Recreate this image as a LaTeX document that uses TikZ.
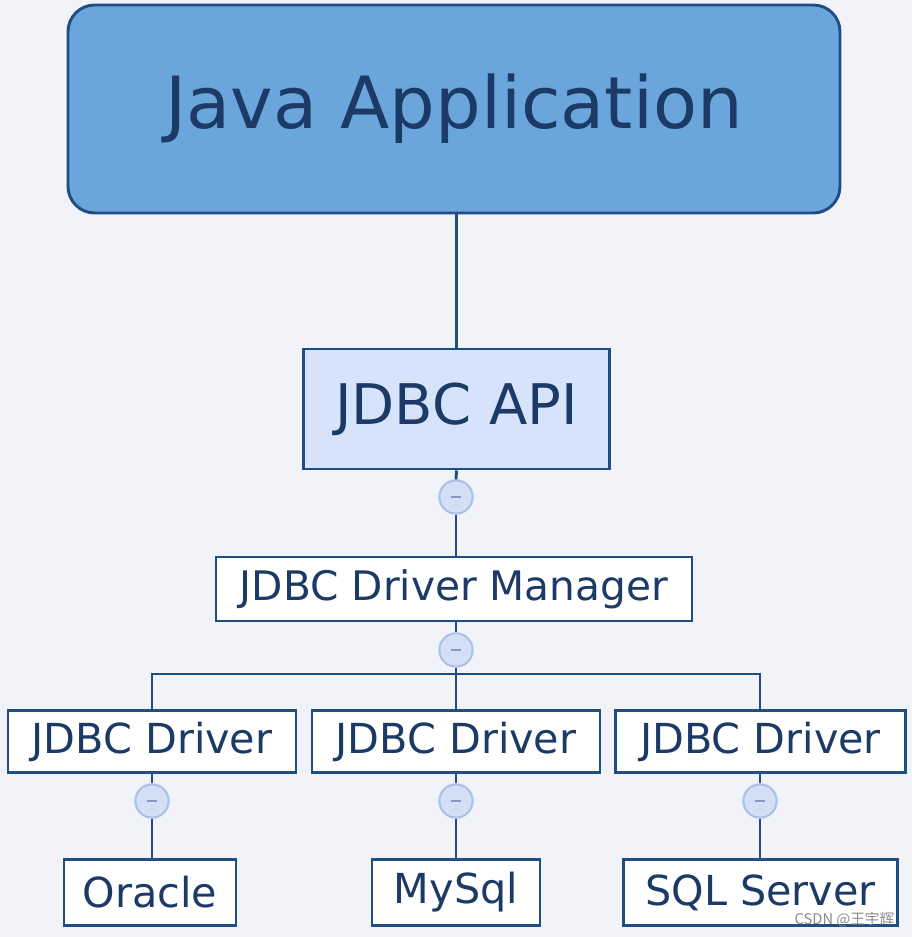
\documentclass[tikz,border=0pt]{standalone}
\usepackage{fontspec}
\setmainfont{DejaVu Sans}
\newfontfamily\cjk{Noto Sans CJK SC}
\definecolor{bg}{HTML}{F2F3F9}
\definecolor{bd}{HTML}{1F4E83}
\definecolor{tx}{HTML}{1C3A66}
\definecolor{top}{HTML}{6AA6DC}
\definecolor{api}{HTML}{D6E3FB}
\definecolor{cf}{HTML}{D3DFF5}
\definecolor{cb}{HTML}{A9BFE8}
\begin{document}
\begin{tikzpicture}[x=0.75pt,y=-0.75pt,
 box/.style={draw=bd,line width=2.2pt,fill=white,text=tx,inner sep=0pt},
 ln/.style={draw=bd,line width=2.2pt},
 col/.style={circle,draw=cb,fill=cf,line width=1.5pt,minimum size=25pt,inner sep=0pt,
  path picture={\draw[cb!80!black,line width=1.3pt] ([xshift=-4pt]path picture bounding box.center) -- ([xshift=4pt]path picture bounding box.center);}}]
\fill[bg] (0,0) rectangle (912,937);
\useasboundingbox (0,0) rectangle (912,937);
\node[box,fill=top,rounded corners=20pt,minimum width=579pt,minimum height=156pt,font=\fontsize{54}{54}\selectfont] (java) at (454,109) {Java Application};
\node[box,fill=api,minimum width=229pt,minimum height=90pt,font=\fontsize{42}{42}\selectfont] (api) at (456.5,409) {JDBC API};
\node[col] (c1) at (456,497) {};
\node[box,minimum width=357pt,minimum height=48pt,font=\fontsize{30.5}{30.5}\selectfont] (mgr) at (454,589) {JDBC Driver Manager};
\node[col] (c2) at (456,650) {};
\node[box,minimum width=216pt,minimum height=47pt,font=\fontsize{31}{31}\selectfont] (d1) at (152,741.5) {JDBC Driver};
\node[box,minimum width=216pt,minimum height=47pt,font=\fontsize{31}{31}\selectfont] (d2) at (456,741.5) {JDBC Driver};
\node[box,minimum width=217pt,minimum height=47pt,font=\fontsize{31}{31}\selectfont] (d3) at (760.5,741.5) {JDBC Driver};
\node[col] (c3) at (152,801) {};
\node[col] (c4) at (456,801) {};
\node[col] (c5) at (760,801) {};
\node[box,minimum width=129pt,minimum height=49pt,font=\fontsize{31}{31}\selectfont] (o) at (150,892.5) {Oracle};
\node[box,minimum width=126pt,minimum height=49pt,font=\fontsize{31}{31}\selectfont] (m) at (456,892.5) {MySql};
\node[box,minimum width=205pt,minimum height=49pt,font=\fontsize{31}{31}\selectfont] (s) at (760.5,892.5) {SQL Server};
\coordinate (hl) at (152,674);
\coordinate (hr) at (760,674);
\coordinate (hm) at (456,674);
\draw[ln] (java.south -| api.north) -- (api.north);
\draw[ln] (api.south) -- (c1.north);
\draw[ln] (c1.south) -- (mgr.north -| c1.south);
\draw[ln] (mgr.south -| c2) -- (c2.north);
\draw[ln] (c2.south) -- (hm);
\draw[ln] (d1.north -| hl) -- (hl) -- (hr) -- (d3.north -| hr);
\draw[ln] (hm) -- (d2.north);
\draw[ln] (d1.south) -- (c3.north); \draw[ln] (c3.south) -- (o.north -| c3);
\draw[ln] (d2.south) -- (c4.north); \draw[ln] (c4.south) -- (m.north);
\draw[ln] (d3.south -| c5) -- (c5.north); \draw[ln] (c5.south) -- (s.north -| c5);
\node[text=gray!90,font=\cjk\fontsize{11}{11}\selectfont,anchor=east] (wm) at (899,920) {CSDN @王宇辉};
\end{tikzpicture}
\end{document}
